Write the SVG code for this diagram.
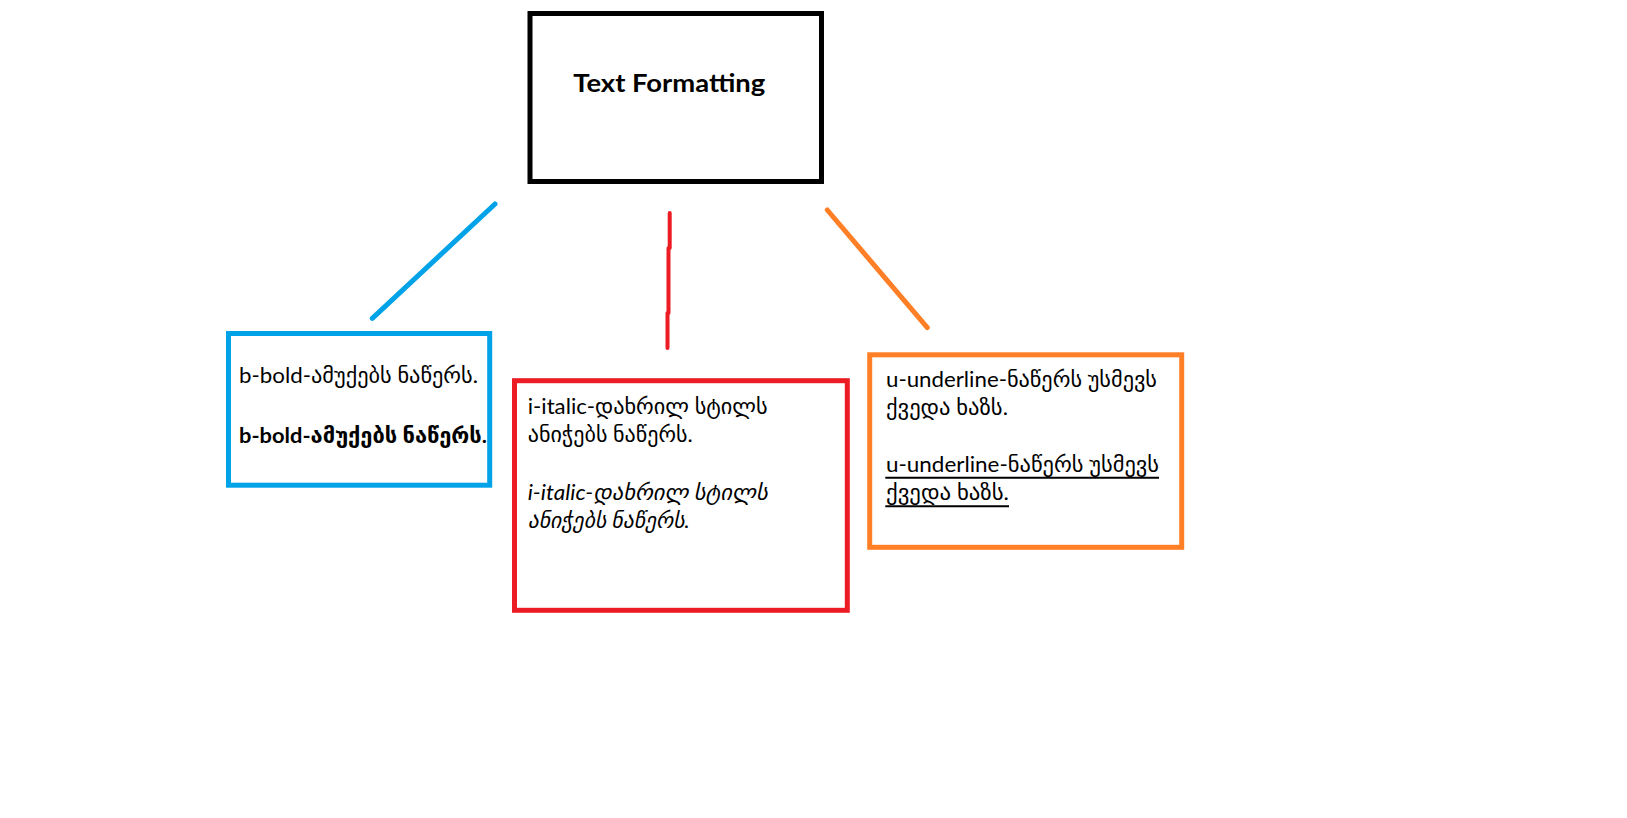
<svg xmlns="http://www.w3.org/2000/svg" width="1627" height="818" viewBox="0 0 1627 818">
<style>
  .box { fill: none; stroke-width: 5; }
  .t { font-family: Lato, "DejaVu Sans", sans-serif; font-size: 21.5px; fill: #000; }
  .title { font-family: Lato, "DejaVu Sans", sans-serif; font-size: 25.5px; font-weight: bold; fill: #000; }
  .b { font-weight: bold; }
  .i { font-style: italic; }
  .ul { stroke: #000; stroke-width: 2; }
  .conn { fill: none; stroke-linecap: round; stroke-linejoin: round; }
</style>
<rect width="1627" height="818" fill="#ffffff"/>
<g id="node-title">
  <rect class="box" x="530" y="13.5" width="291.5" height="168" stroke="#000000"/>
  <text class="title" x="573.3" y="91.7" textLength="192" lengthAdjust="spacingAndGlyphs">Text Formatting</text>
</g>
<g id="node-bold">
  <rect class="box" x="228.5" y="333.5" width="261.2" height="151.7" stroke="#00a2e8"/>
  <text class="t" x="239" y="383" textLength="239" lengthAdjust="spacingAndGlyphs">b-bold-ამუქებს ნაწერს.</text>
  <text class="t b" x="239" y="443" textLength="248" lengthAdjust="spacingAndGlyphs">b-bold-ამუქებს ნაწერს.</text>
</g>
<g id="node-italic">
  <rect class="box" x="514.5" y="380.7" width="332.8" height="229.6" stroke="#ed1c24"/>
  <text class="t" x="527.7" y="414" textLength="240" lengthAdjust="spacingAndGlyphs">i-italic-დახრილ სტილს</text>
  <text class="t" x="527.7" y="441.7" textLength="165" lengthAdjust="spacingAndGlyphs">ანიჭებს ნაწერს.</text>
  <text class="t i" x="527.7" y="500" textLength="240" lengthAdjust="spacingAndGlyphs">i-italic-დახრილ სტილს</text>
  <text class="t i" x="527.7" y="528" textLength="162" lengthAdjust="spacingAndGlyphs">ანიჭებს ნაწერს.</text>
</g>
<g id="node-underline">
  <rect class="box" x="869.7" y="354.8" width="312" height="192.5" stroke="#ff7f27"/>
  <text class="t" x="886" y="386.7" textLength="271" lengthAdjust="spacingAndGlyphs">u-underline-ნაწერს უსმევს</text>
  <text class="t" x="886" y="415" textLength="122" lengthAdjust="spacingAndGlyphs">ქვედა ხაზს.</text>
  <text class="t" x="886" y="471.7" textLength="273" lengthAdjust="spacingAndGlyphs">u-underline-ნაწერს უსმევს</text>
  <line class="ul" x1="885.3" y1="477.7" x2="1159" y2="477.7"/>
  <text class="t" x="886" y="500.2" textLength="123" lengthAdjust="spacingAndGlyphs">ქვედა ხაზს.</text>
  <line class="ul" x1="885.3" y1="506.2" x2="1009" y2="506.2"/>
</g>
<g id="connectors">
  <path class="conn" d="M495 204 L372.3 318.3" stroke="#00a2e8" stroke-width="5"/>
  <path class="conn" d="M669.7 213 V248 H668.5 V313 H667.5 V348" stroke="#ed1c24" stroke-width="4"/>
  <path class="conn" d="M827.3 210 L927.3 327.7" stroke="#ff7f27" stroke-width="5"/>
</g>
</svg>
